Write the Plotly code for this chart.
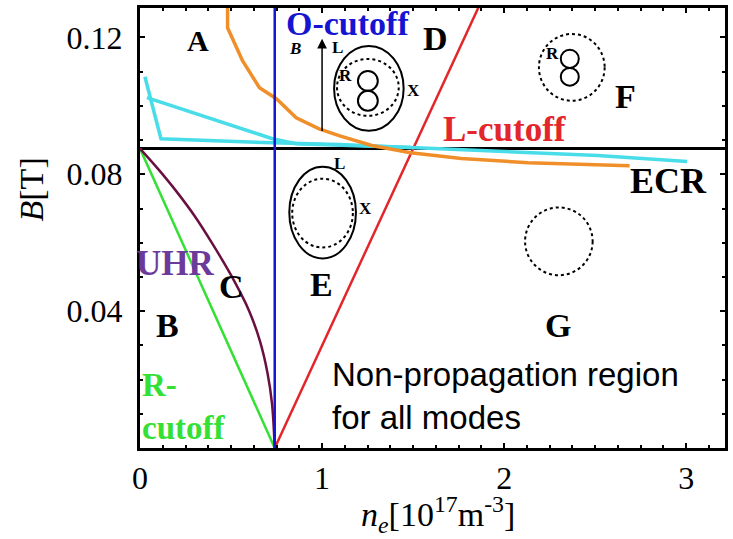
import plotly.graph_objects as go

# ---------------- data ----------------
X_MAX = 3.213
Y_MAX = 0.1286

ECR_B = 0.0875          # ECR field [T]
O_CUTOFF_N = 0.74       # O-cutoff density [1e17 m^-3]

r_cutoff_n = [0.0, 0.74]
r_cutoff_B = [0.0875, 0.0]

l_cutoff_n = [0.74, 1.90]
l_cutoff_B = [0.0, 0.1335]

uhr_n = [0.0, 0.1, 0.2, 0.3, 0.4, 0.5, 0.6, 0.66, 0.70, 0.725, 0.74]
uhr_B = [0.0875, 0.0815, 0.0750, 0.0678, 0.0595, 0.0505, 0.0400, 0.0310, 0.0220, 0.0130, 0.0]

orange_n = [0.481, 0.481, 0.563, 0.656, 0.749, 0.858, 0.984, 1.093, 1.273, 1.486, 1.765, 2.131, 2.689]
orange_B = [0.1300, 0.1228, 0.1132, 0.1053, 0.1021, 0.0965, 0.0933, 0.0913, 0.0884, 0.0863, 0.0846, 0.0834, 0.0825]

cyan1_n = [0.027, 0.115, 0.727, 1.093, 1.486, 2.077, 2.514, 3.005]
cyan1_B = [0.1085, 0.0904, 0.0892, 0.0887, 0.0878, 0.0866, 0.0855, 0.0837]

cyan2_n = [0.038, 0.727, 0.858, 1.486]
cyan2_B = [0.1024, 0.0904, 0.0889, 0.0878]

x_ticks = [0, 1, 2, 3]
y_ticks = [0.04, 0.08, 0.12]
y_tick_text = ["0.04", "0.08", "0.12"]

# ---------------- styles ----------------
SERIF = "Liberation Serif"
SANS = "Liberation Sans"
BLUE = "#1414d2"
RED = "#e3262b"
GREEN = "#35e035"
UHR_LINE = "#6a1040"
UHR_TEXT = "#6b3a9b"
ORANGE = "#f08f2a"
CYAN = "#48dde8"

fig = go.Figure()

# ECR line
fig.add_trace(go.Scatter(x=[0, X_MAX], y=[ECR_B, ECR_B], mode="lines",
                         line=dict(color="black", width=3), hoverinfo="skip"))
# R-cutoff
fig.add_trace(go.Scatter(x=r_cutoff_n, y=r_cutoff_B, mode="lines",
                         line=dict(color=GREEN, width=2.5)))
# UHR
fig.add_trace(go.Scatter(x=uhr_n, y=uhr_B, mode="lines", line_shape="spline",
                         line=dict(color=UHR_LINE, width=2.5)))
# L-cutoff
fig.add_trace(go.Scatter(x=l_cutoff_n, y=l_cutoff_B, mode="lines",
                         line=dict(color=RED, width=2.5)))
# cyan traces
fig.add_trace(go.Scatter(x=cyan1_n, y=cyan1_B, mode="lines",
                         line=dict(color=CYAN, width=3.5)))
fig.add_trace(go.Scatter(x=cyan2_n, y=cyan2_B, mode="lines",
                         line=dict(color=CYAN, width=3.5)))
# orange trace
fig.add_trace(go.Scatter(x=orange_n, y=orange_B, mode="lines",
                         line=dict(color=ORANGE, width=3.5)))
# O-cutoff
fig.add_trace(go.Scatter(x=[O_CUTOFF_N, O_CUTOFF_N], y=[0, Y_MAX], mode="lines",
                         line=dict(color=BLUE, width=2.5)))

# ---------------- polarization sketches ----------------
def ell(x0, x1, y0, y1, dash="solid", w=2):
    fig.add_shape(type="circle", xref="x", yref="y", x0=x0, x1=x1, y0=y0, y1=y1,
                  line=dict(color="black", width=w, dash=dash))

# region D
ell(1.066, 1.448, 0.0927, 0.1175)
ell(1.082, 1.421, 0.0971, 0.1137, dash="dot", w=2)
ell(1.197, 1.306, 0.1044, 0.1102)
ell(1.197, 1.306, 0.0986, 0.1044)
# region E
ell(0.820, 1.186, 0.0554, 0.0822)
ell(0.836, 1.169, 0.0586, 0.0787, dash="dot", w=2)
# region F
ell(2.191, 2.552, 0.1015, 0.1210, dash="dot", w=2)
ell(2.311, 2.410, 0.1111, 0.1164)
ell(2.311, 2.410, 0.1059, 0.1111)
# region G
ell(2.115, 2.486, 0.0505, 0.0703, dash="dot", w=2)

# B arrow
fig.add_annotation(x=1.0, y=0.1196, ax=1.0, ay=0.0922, xref="x", yref="y",
                   axref="x", ayref="y", showarrow=True, arrowhead=2,
                   arrowsize=1.3, arrowwidth=1.5, arrowcolor="black", text="")

# ---------------- text ----------------
def txt(x, y, s, size=34, color="black", bold=True, font=SERIF, italic=False,
        xanchor="center", align="center"):
    t = s
    if bold:
        t = "<b>" + t + "</b>"
    if italic:
        t = "<i>" + t + "</i>"
    fig.add_annotation(x=x, y=y, xref="x", yref="y", text=t, showarrow=False,
                       font=dict(family=font, size=size, color=color),
                       xanchor=xanchor, yanchor="middle", align=align, borderpad=0)

txt(0.317, 0.1190, "A", size=30)
txt(1.142, 0.1240, "O-cutoff", size=34, color=BLUE)
txt(1.623, 0.1197, "D")
txt(0.850, 0.1167, "B", size=17, italic=True)
txt(1.085, 0.1172, "L", size=17)
txt(1.131, 0.1088, "R", size=17)
txt(1.503, 0.1044, "X", size=17)
txt(2.665, 0.1027, "F")
txt(2.268, 0.1152, "R", size=17)
txt(2.000, 0.0931, "L-cutoff", size=35, color=RED)
txt(2.905, 0.0780, "ECR", size=36)
txt(1.098, 0.0831, "L", size=17)
txt(1.240, 0.0700, "X", size=17)
txt(0.995, 0.0479, "E")
txt(0.197, 0.0540, "UHR", size=35, color=UHR_TEXT)
txt(0.503, 0.0473, "C")
txt(0.153, 0.0357, "B")
txt(2.295, 0.0357, "G")
txt(0.005, 0.0122, "R-<br>cutoff", size=33, color=GREEN, xanchor="left", align="left")
txt(1.050, 0.0152, "Non-propagation region<br>for all modes", size=33, bold=False,
    font=SANS, xanchor="left", align="left")

# axis titles
fig.add_annotation(x=0.51, y=-0.152, xref="paper", yref="paper", showarrow=False,
                   text="<i>n</i><sub><i>e</i></sub>[10<sup>17</sup>m<sup>-3</sup>]",
                   font=dict(family=SERIF, size=34, color="black"),
                   xanchor="center", yanchor="middle")
fig.add_annotation(x=-0.185, y=0.587, xref="paper", yref="paper", showarrow=False,
                   text="<i>B</i>[T]", textangle=-90,
                   font=dict(family=SERIF, size=34, color="black"),
                   xanchor="center", yanchor="middle")

axis_common = dict(showgrid=False, zeroline=False, showline=True, linecolor="black",
                   linewidth=3, mirror="ticks", ticks="inside", ticklen=5,
                   tickcolor="black", tickwidth=1.5,
                   tickfont=dict(family=SERIF, size=32, color="black"))

fig.update_xaxes(range=[0, X_MAX], tickmode="array", tickvals=x_ticks,
                 ticktext=[str(v) for v in x_ticks],
                 minor=dict(dtick=0.125, ticks="inside", ticklen=3, tickcolor="black"),
                 **axis_common)
fig.update_yaxes(range=[0, Y_MAX], tickmode="array", tickvals=y_ticks,
                 ticktext=y_tick_text, ticklabelstandoff=8,
                 minor=dict(dtick=0.01, ticks="inside", ticklen=3, tickcolor="black"),
                 **axis_common)

fig.update_layout(width=733, height=539, showlegend=False,
                  margin=dict(l=140, r=5, t=7, b=91),
                  plot_bgcolor="white", paper_bgcolor="white")

fig.write_html("out.html")
